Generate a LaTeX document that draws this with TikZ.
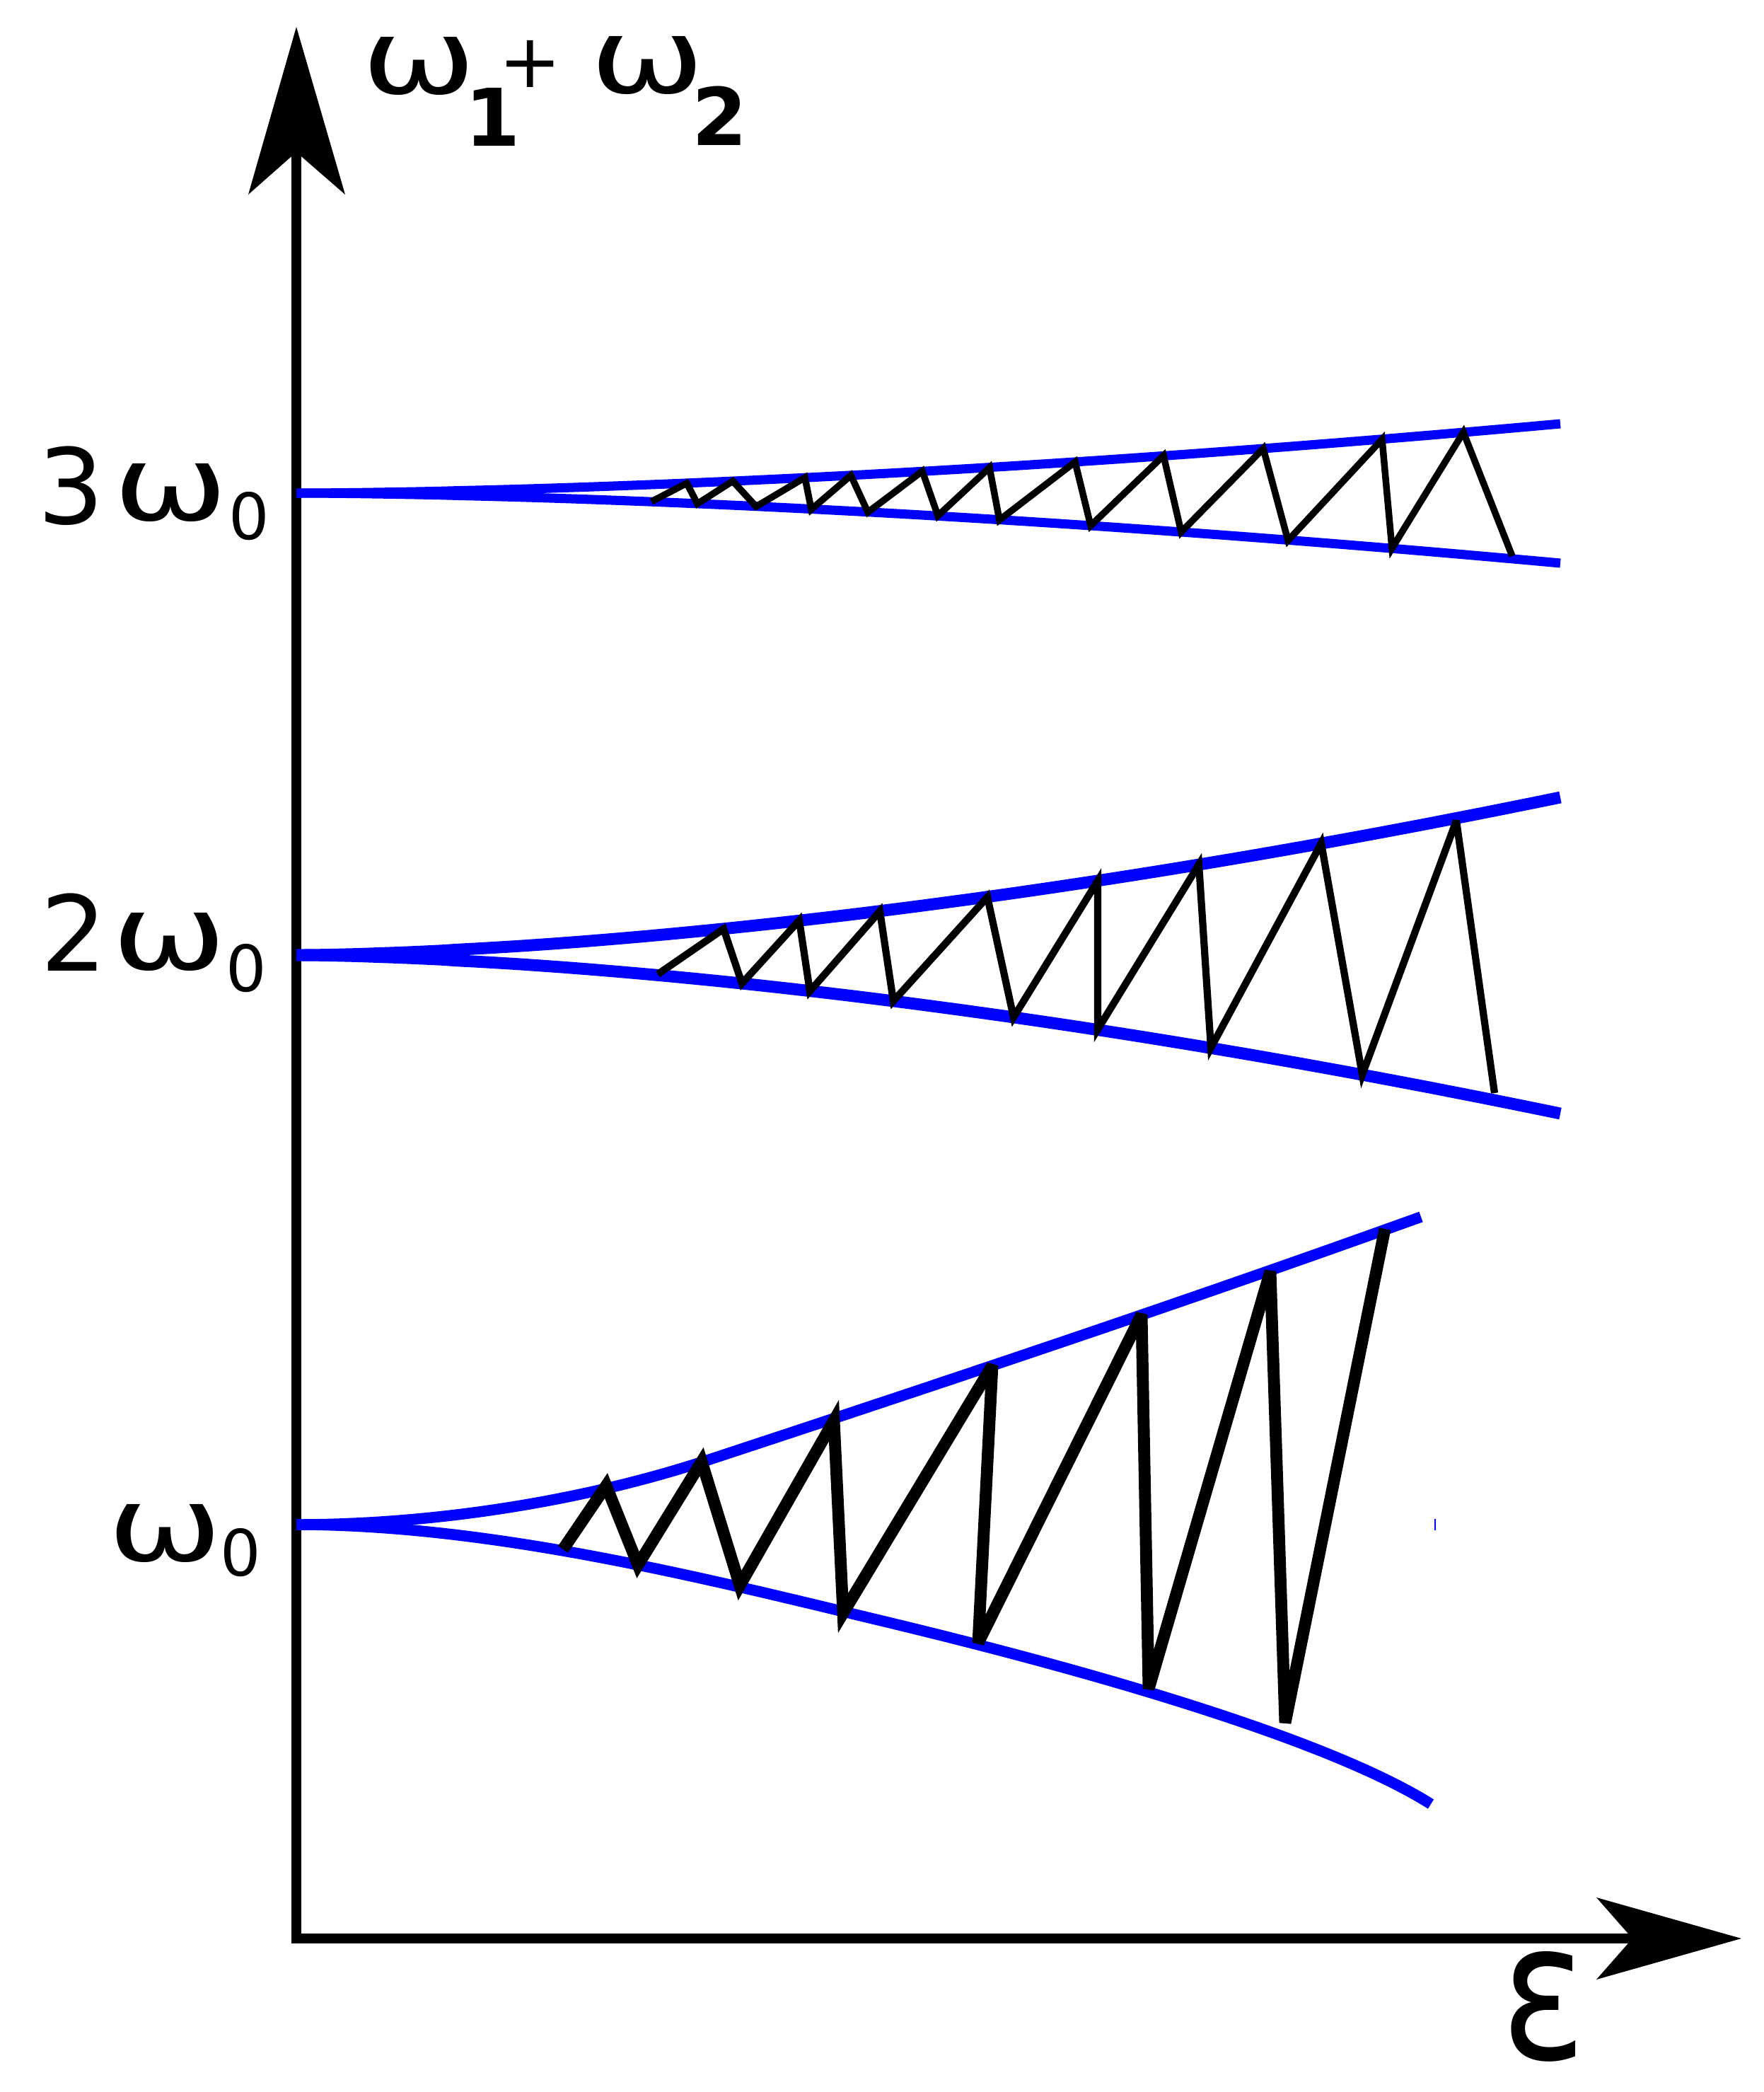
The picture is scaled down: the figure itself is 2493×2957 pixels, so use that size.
\documentclass[tikz,border=0pt]{standalone}
\usepackage{fontspec}
\setmainfont{DejaVu Sans}
\usepackage{graphicx}
\newcommand{\myomega}{\resizebox{1.62cm}{0.80cm}{ω}}
\newcommand{\myeps}{\resizebox{1.20cm}{1.52cm}{ε}}
\begin{document}
\begin{tikzpicture}[x=0.01cm,y=-0.01cm,line join=miter,miter limit=4,
  axisline/.style={line width=4pt,black},
  bandtop/.style={blue,line width=3.7pt},
  bandmid/.style={blue,line width=4.8pt},
  bandlow/.style={blue,line width=4.4pt},
  zigtop/.style={black,line width=2.7pt},
  zigmid/.style={black,line width=2.9pt},
  ziglow/.style={black,line width=4.8pt},
  lbl/.style={inner sep=0pt,outer sep=0pt,anchor=center},
  bigdigit/.style={lbl,font=\fontsize{42pt}{48pt}\selectfont},
  subdigit/.style={lbl,font=\fontsize{25.7pt}{30pt}\selectfont},
  topsub/.style={lbl,font=\bfseries\fontsize{32pt}{36pt}\selectfont}]
\useasboundingbox (0,0) rectangle (2493,2957);

% axes
\coordinate (O) at (419,2740);
\coordinate (ynotch) at (419,215);
\coordinate (xnotch) at (2308,2740);
\draw[axisline] (ynotch) -- (O) -- (xnotch);
\fill[black] (419,38) -- (488,275) -- (ynotch) -- (351,275) -- cycle;
\fill[black] (2462,2740) -- (2257,2798) -- (xnotch) -- (2257,2682) -- cycle;

% 3 omega_0 band
\draw[bandtop] (419,697) -- plot[domain=421:2206,samples=80,smooth] (\x,{697-98*((\x-419)/1787)^1.65});
\draw[bandtop] (419,697) -- plot[domain=421:2206,samples=80,smooth] (\x,{697+99*((\x-419)/1787)^1.65});
\draw[zigtop] (921,709) -- (971,683) -- (986,712) -- (1036,680) -- (1069,716) -- (1138,675) -- (1147,720) -- (1203,672) -- (1227,724) -- (1304,666) -- (1326,729) -- (1399,661) -- (1413,735) -- (1520,653) -- (1542,743) -- (1645,644) -- (1670,752) -- (1786,634) -- (1821,764) -- (1954,621) -- (1968,775) -- (2069,611) -- (2138,786);

% 2 omega_0 band
\draw[bandmid] (419,1350) -- plot[domain=421:2206,samples=80,smooth] (\x,{1350-223*((\x-419)/1787)^1.65});
\draw[bandmid] (419,1350) -- plot[domain=421:2206,samples=80,smooth] (\x,{1350+224*((\x-419)/1787)^1.65});
\draw[zigmid] (930,1377) -- (1023,1313) -- (1049,1390) -- (1130,1301) -- (1145,1401) -- (1244,1288) -- (1263,1415) -- (1396,1268) -- (1433,1438) -- (1552,1245) -- (1552,1455) -- (1695,1222) -- (1712,1481) -- (1868,1192) -- (1926,1519) -- (2059,1160) -- (2113,1545);

% omega_0 band
\draw[bandlow] (419,2155) .. controls (620,2155) and (830,2120) .. (1000,2064) .. controls (1340,1952) and (1670,1842) .. (2009,1720);
\draw[bandlow] (419,2155) .. controls (700,2155) and (1005,2233) .. (1255,2293) .. controls (1555,2365) and (1880,2460) .. (2023,2550);
\draw[ziglow] (796,2190) -- (857,2100) -- (902,2212) -- (992,2066) -- (1046,2241) -- (1179,2008) -- (1192,2280) -- (1403,1930) -- (1383,2322) -- (1614,1858) -- (1624,2387) -- (1796,1797) -- (1817,2435) -- (1958,1737);
\draw[blue,line width=0.3pt] (2029,2147) -- (2029,2163);

% labels
\node[bigdigit] (t3) at (100,687) {3};
\node[lbl] (t3w) at (242,696) {\myomega};
\node[subdigit] (t3z) at (352,730) {0};
\node[bigdigit] (t2) at (104,1318) {2};
\node[lbl] (t2w) at (240,1331) {\myomega};
\node[subdigit] (t2z) at (348,1369) {0};
\node[lbl] (t1w) at (234,2167) {\myomega};
\node[subdigit] (t1z) at (340,2195) {0};
\node[lbl] (yw1) at (593,94) {\myomega};
\node[topsub] (ys1) at (697,165) {1};
\node[lbl,font=\fontsize{30pt}{34pt}\selectfont] (yplus) at (750,90) {+};
\node[lbl] (yw2) at (916,93) {\myomega};
\node[topsub] (ys2) at (1018,164) {2};
\node[lbl] (xeps) at (2183,2836) {\myeps};
\end{tikzpicture}
\end{document}
